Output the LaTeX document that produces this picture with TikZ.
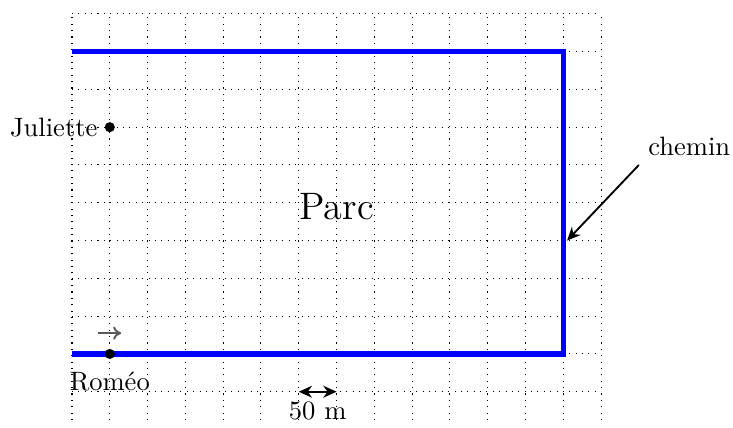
\documentclass[tikz,border=0pt]{standalone}
\usetikzlibrary{arrows.meta, positioning}

\begin{document}
\begin{tikzpicture}[
    x=0.5cm, y=0.5cm,
    gridLine/.style={dotted, line width=0.4pt},
    pathLine/.style={blue, line width=2pt},
    personDot/.style={circle, fill=black, inner sep=0pt, minimum size=3.8pt},
    pointerArrow/.style={-{Stealth[length=5pt, width=4.5pt]}, line width=0.7pt},
    scaleArrow/.style={{Stealth[length=5pt, width=4.5pt]}-{Stealth[length=5pt, width=4.5pt]}, line width=0.7pt}
]
\useasboundingbox (-1.905,-1.958) rectangle (17.49,9.365);

% Background grid
\draw[gridLine, step=0.5cm] (0,-1.75) grid (14,9);

% Path around the park
\coordinate (pTL) at (0,8);
\coordinate (pTR) at (13,8);
\coordinate (pBR) at (13,0);
\coordinate (pBL) at (0,0);
\draw[pathLine] (pTL) -- (pTR) -- (pBR) -- (pBL);

\node[font=\Large] (parc) at (7,3.9) {Parc};

% People
\node[personDot] (juliette) at (1,6) {};
\node[left=-1pt of juliette] (julietteLabel) {Juliette};
\node[personDot] (romeo) at (1,0) {};
\node[below=1pt of romeo] (romeoLabel) {Roméo};
\coordinate (romeoDirA) at (0.7,0.55);
\coordinate (romeoDirB) at (1.3,0.55);
\draw[-{To[length=3pt, width=5pt]}, gray!70!black, line width=0.7pt] (romeoDirA) -- (romeoDirB);

% Pointer to the path
\coordinate (cheminStart) at (15,5);
\coordinate (cheminEnd) at (13.1,3);
\draw[pointerArrow] (cheminStart) -- (cheminEnd);
\node[above right=0pt of cheminStart, inner sep=3.33pt] (cheminLabel) {chemin};

% Scale
\coordinate (scaleA) at (6,-1);
\coordinate (scaleB) at (7,-1);
\draw[scaleArrow] (scaleA) -- (scaleB) node[midway, below] (scaleLabel) {50 m};

\end{tikzpicture}
\end{document}
